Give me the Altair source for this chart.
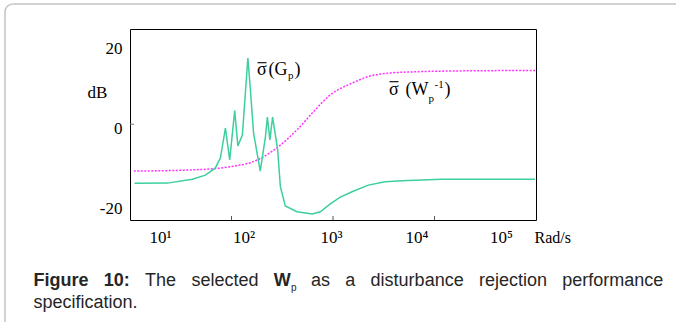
import altair as alt
import pandas as pd

# ---------------- data ----------------
gp_freq = [11.1, 23.4, 41.2, 55.3, 69.4, 77.8, 87.1, 96.0, 107.5, 115.5, 128, 145,
           153.5, 165, 192, 216, 225.6, 239, 254, 285, 303, 339, 442, 625, 750,
           940, 1180, 1540, 2225, 3270, 4780, 11800, 98000]
gp_db = [-14.75, -14.7, -13.75, -12.7, -10.9, -8.4, -1.0, -8.9, 3.4, -5.4, -2.7, 16.5,
         8.6, -2.25, -11.7, -3.1, 1.75, -3.9, 1.75, -6.4, -15.6, -20.4, -21.85, -22.4, -21.85,
         -19.9, -18.2, -16.85, -15.2, -14.35, -14.1, -13.75, -13.75]

wp_freq = [10.9, 40.9, 74.3, 109, 153.5, 207.5, 303, 442, 644, 940, 1540, 2240,
           3525, 6970, 18600, 98000]
wp_db = [-11.7, -11.4, -11.0, -10.4, -9.6, -8.1, -5.2, -1.4, 3.15, 7.3, 10.25, 11.9,
         12.75, 13.1, 13.3, 13.4]

x_tick_values = [10, 100, 1000, 10000, 100000]
x_inner_ticks = [100, 1000, 10000]
y_tick_values = [-20, 0, 20]
y_inner_ticks = [0]

x_domain = [10, 100000]
y_domain = [-23.9, 23.75]

caption_line1 = [("Figure", True), ("10:", True), ("The", False), ("selected", False),
                 ("W", True), ("as", False), ("a", False), ("disturbance", False),
                 ("rejection", False), ("performance", False)]
caption_line2 = "specification."

# ---------------- layout / style ----------------
W, H = 406, 191
PAD = {"left": 130, "top": 29, "right": 676 - 130 - W, "bottom": 322 - 29 - H}
SERIF = "Liberation Serif"
SANS = "Liberation Sans"
GREEN = "#3ccf9f"
MAGENTA = "#ff33ff"
CAP_COLOR = "#262626"

one = pd.DataFrame({"a": [0]})

xscale = alt.Scale(type="log", domain=x_domain)
yscale = alt.Scale(domain=y_domain)

x_label_offset = {
    "condition": [
        {"test": "datum.value < 30", "value": 30},
        {"test": "datum.value < 300", "value": 12},
        {"test": "datum.value < 3000", "value": -2},
        {"test": "datum.value < 30000", "value": -18},
    ],
    "value": -35,
}

xaxis = alt.Axis(
    values=x_tick_values,
    labelExpr="'10' + ['⁰','¹','²','³','⁴','⁵'][round(log(datum.value)/LN10)]",
    labelOffset=x_label_offset,
    labelFlush=False, labelOverlap=False, labelBound=False,
    domain=False, ticks=False, grid=False,
    labelFont=SERIF, labelFontSize=17, labelColor="black", labelPadding=9,
    title="Rad/s", titleFont=SERIF, titleFontSize=16, titleFontWeight="normal",
    titleColor="black", titleX=404, titleY=17, titleAlign="left", titleBaseline="middle",
)
yaxis = alt.Axis(
    values=y_tick_values, domain=False, ticks=False, grid=False,
    labelExpr="datum.value < 0 ? '-' + abs(datum.value) : '' + datum.value",
    labelFont=SERIF, labelFontSize=17, labelColor="black", labelPadding=8, labelOffset=4,
    title="dB", titleFont=SERIF, titleFontSize=17, titleFontWeight="normal",
    titleColor="black", titleAngle=0, titleX=-33, titleY=63, titleAlign="center",
    titleBaseline="middle",
)

gp_df = pd.DataFrame({"f": gp_freq, "db": gp_db})
wp_df = pd.DataFrame({"f": wp_freq, "db": wp_db})

green = alt.Chart(gp_df).mark_line(color=GREEN, strokeWidth=1.5, clip=True).encode(
    x=alt.X("f:Q", scale=xscale, axis=xaxis),
    y=alt.Y("db:Q", scale=yscale, axis=yaxis),
)
magenta = alt.Chart(wp_df).mark_line(
    color=MAGENTA, strokeWidth=1.5, strokeDash=[2, 1.5], interpolate="monotone", clip=True
).encode(x=alt.X("f:Q", scale=xscale), y=alt.Y("db:Q", scale=yscale))

xt = alt.Chart(pd.DataFrame({"f": x_inner_ticks})).mark_rule(color="#555", strokeWidth=1).encode(
    x=alt.X("f:Q", scale=xscale), y=alt.value(H - 4), y2=alt.value(H)
)
yt = alt.Chart(pd.DataFrame({"db": y_inner_ticks})).mark_rule(color="#777", strokeWidth=1).encode(
    y=alt.Y("db:Q", scale=yscale), x=alt.value(0), x2=alt.value(4)
)

border = alt.Chart(one).mark_rect(
    fillOpacity=0, stroke="#c4c4c4", strokeWidth=1.5, cornerRadius=8
).encode(x=alt.value(-125), x2=alt.value(570), y=alt.value(-25), y2=alt.value(310))


def txt(s, x, y, size=17, font=SERIF, bold=False, color="black", baseline="middle"):
    return alt.Chart(one).mark_text(
        text=s, font=font, fontSize=size, fontWeight="bold" if bold else "normal",
        color=color, align="left", baseline=baseline
    ).encode(x=alt.value(x), y=alt.value(y))


def bar(x1, x2, y):
    return alt.Chart(one).mark_rule(color="black", strokeWidth=1.1).encode(
        x=alt.value(x1), x2=alt.value(x2), y=alt.value(y)
    )


ox, oy = 129.5, 29.3
ann = [
    txt("σ", 256.5 - ox, 70 - oy, size=18),
    bar(257 - ox, 266 - ox, 63 - oy),
    txt("(G", 268 - ox, 70 - oy, size=18),
    txt("p", 287.5 - ox, 76 - oy, size=11),
    txt(")", 294 - ox, 70 - oy, size=18),
    txt("σ", 388.5 - ox, 90.7 - oy, size=18),
    bar(389 - ox, 398 - ox, 82 - oy),
    txt("(W", 405 - ox, 90.7 - oy, size=18),
    txt("p", 428 - ox, 99 - oy, size=11),
    txt("-1", 434 - ox, 85 - oy, size=11),
    txt(")", 444 - ox, 90.7 - oy, size=18),
]

word_x = [33, 103.3, 144.6, 190.9, 273.2, 310.5, 344.8, 370.1, 478.4, 561.7]
cap = []
for (w, b), x in zip(caption_line1, word_x):
    cap.append(txt(w, x - ox, 286.5 - oy, size=18, font=SANS, bold=b, color=CAP_COLOR,
                   baseline="alphabetic"))
cap.append(txt("p", 290.5 - ox, 291 - oy, size=10, font=SANS, color=CAP_COLOR,
               baseline="alphabetic"))
cap.append(txt(caption_line2, 33 - ox, 308 - oy, size=18, font=SANS, color=CAP_COLOR,
               baseline="alphabetic"))

chart = alt.layer(border, magenta, green, xt, yt, *ann, *cap).properties(
    width=W, height=H, padding=PAD, autosize=alt.AutoSizeParams(type="none"),
    background="white",
).configure_view(stroke="black", strokeWidth=1)

chart.save("out.html", embed_options={"renderer": "svg", "actions": False})
